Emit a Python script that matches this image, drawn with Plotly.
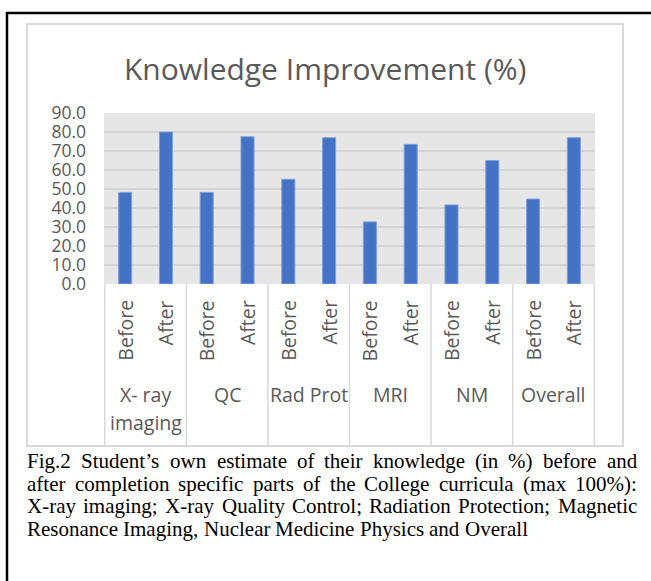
import plotly.graph_objects as go

# ---------------- data ----------------
groups = ["X- ray\nimaging", "QC", "Rad Prot", "MRI", "NM", "Overall"]
stages = ["Before", "After"]
before_vals = [48.2, 48.2, 55.1, 32.7, 41.6, 44.7]
after_vals = [80.0, 77.5, 77.0, 73.5, 65.0, 77.0]
y_ticks = [0, 10, 20, 30, 40, 50, 60, 70, 80, 90]
chart_title = "Knowledge Improvement (%)"
caption_lines = [
    "Fig.2 Student\u2019s own estimate of their knowledge (in %) before and",
    "after completion specific parts of the College curricula (max 100%):",
    "X-ray imaging; X-ray Quality Control; Radiation Protection; Magnetic",
    "Resonance Imaging, Nuclear Medicine Physics and Overall",
]

# ---------------- geometry (pixels) ----------------
W, H = 651, 581
L, R, T, B = 104, 595, 113, 284


def px(x):
    return (x - L) / (R - L)


def py(y):
    return (B - y) / (B - T)


cats, vals = [], []
for g, b, a in zip(groups, before_vals, after_vals):
    for s, v in zip(stages, (b, a)):
        cats.append(g.replace("\n", " ") + " | " + s)
        vals.append(v)

GRAY = "#595959"
SANS = "Open Sans"

fig = go.Figure(
    go.Bar(
        x=cats,
        y=vals,
        marker=dict(color="#4472C4", line=dict(color="#7f9fd8", width=1)),
        hoverinfo="x+y",
    )
)

fig.update_layout(
    width=W,
    height=H,
    margin=dict(l=L, r=W - R, t=T, b=H - B, pad=0),
    paper_bgcolor="white",
    plot_bgcolor="#e6e6e6",
    bargap=0.68,
    showlegend=False,
    xaxis=dict(
        type="category",
        showticklabels=False,
        showgrid=False,
        zeroline=False,
        ticks="",
        fixedrange=True,
    ),
    yaxis=dict(
        range=[0, 90],
        tickvals=y_ticks,
        ticktext=[f"{v:.1f}" for v in y_ticks],
        showgrid=True,
        gridcolor="#d4d4d4",
        gridwidth=1.5,
        zeroline=False,
        ticks="",
        ticklabelstandoff=17,
        tickfont=dict(family=SANS, size=17.5, color=GRAY),
        fixedrange=True,
    ),
)

shapes = []
annotations = []

# outer black frame (top and left)
shapes.append(dict(type="line", xref="paper", yref="paper", x0=px(6), x1=px(651),
                   y0=py(13), y1=py(13), line=dict(color="black", width=2.5)))
shapes.append(dict(type="line", xref="paper", yref="paper", x0=px(7), x1=px(7),
                   y0=py(12), y1=py(581), line=dict(color="black", width=2.5)))
# chart area border
shapes.append(dict(type="rect", xref="paper", yref="paper", x0=px(27), x1=px(623),
                   y0=py(24), y1=py(446), line=dict(color="#d9d9d9", width=2),
                   layer="below"))

# category separators below axis
n = len(cats)
for k in range(0, n + 1, len(stages)):
    shapes.append(dict(type="line", xref="x", yref="paper", x0=k - 0.5, x1=k - 0.5,
                       y0=0, y1=py(446), line=dict(color="#d9d9d9", width=1.5)))

# title
annotations.append(dict(text=chart_title, xref="paper", yref="paper", x=px(325), y=py(68),
                        xanchor="center", yanchor="middle", showarrow=False,
                        font=dict(family=SANS, size=30, color=GRAY)))

# inner labels (Before / After), rotated
for i, c in enumerate(cats):
    stage = c.split(" | ")[1]
    annotations.append(dict(text=stage, xref="x", yref="paper", x=i, y=py(298),
                            xanchor="center", yanchor="top", textangle=-90,
                            showarrow=False,
                            font=dict(family=SANS, size=19.5, color=GRAY)))

# outer group labels
for j, g in enumerate(groups):
    xc = j * len(stages) + (len(stages) - 1) / 2
    for li, line in enumerate(g.split("\n")):
        annotations.append(dict(text=line, xref="x", yref="paper", x=xc, y=py(394 + 28 * li),
                                xanchor="center", yanchor="middle", showarrow=False,
                                font=dict(family=SANS, size=19.5, color=GRAY)))

# caption (justified Times-like text, word by word)
TW = {
    ' ': 250, 'a': 444, 'b': 500, 'c': 444, 'd': 500, 'e': 444, 'f': 333, 'g': 500, 'h': 500,
    'i': 278, 'j': 278, 'k': 500, 'l': 278, 'm': 778, 'n': 500, 'o': 500, 'p': 500, 'q': 500,
    'r': 333, 's': 389, 't': 278, 'u': 500, 'v': 500, 'w': 722, 'x': 500, 'y': 500, 'z': 444,
    'A': 722, 'B': 667, 'C': 667, 'D': 722, 'E': 611, 'F': 556, 'G': 722, 'H': 722, 'I': 333,
    'J': 389, 'K': 722, 'L': 611, 'M': 889, 'N': 722, 'O': 722, 'P': 556, 'Q': 722, 'R': 667,
    'S': 556, 'T': 611, 'U': 722, 'V': 722, 'W': 944, 'X': 722, 'Y': 722, 'Z': 611,
    '0': 500, '1': 500, '2': 500, '3': 500, '4': 500, '5': 500, '6': 500, '7': 500, '8': 500,
    '9': 500, '.': 250, ',': 250, ':': 278, ';': 278, '(': 333, ')': 333, '%': 833, '-': 333,
    '\u2019': 333, "'": 180,
}
CAP_FS = 21
CAP_LEFT, CAP_RIGHT = 27, 637
cap_y = [461, 483.5, 506, 528.5]


def wwidth(w):
    return sum(TW.get(ch, 500) for ch in w) * CAP_FS / 1000.0


for li, line in enumerate(caption_lines):
    words = line.split(" ")
    widths = [wwidth(w) for w in words]
    if li < len(caption_lines) - 1:
        gap = (CAP_RIGHT - CAP_LEFT - sum(widths)) / (len(words) - 1)
    else:
        gap = TW[' '] * CAP_FS / 1000.0
    xpos = CAP_LEFT
    for w, ww in zip(words, widths):
        annotations.append(dict(text=w, xref="paper", yref="paper", x=px(xpos - 2), y=py(cap_y[li]),
                                xanchor="left", yanchor="middle", showarrow=False,
                                font=dict(family="Liberation Serif", size=CAP_FS, color="black")))
        xpos += ww + gap

fig.update_layout(shapes=shapes, annotations=annotations)
fig.write_html(
    "out.html",
    config={"displayModeBar": False},
    post_script="document.body.style.margin='0';document.body.style.overflow='hidden';",
)
